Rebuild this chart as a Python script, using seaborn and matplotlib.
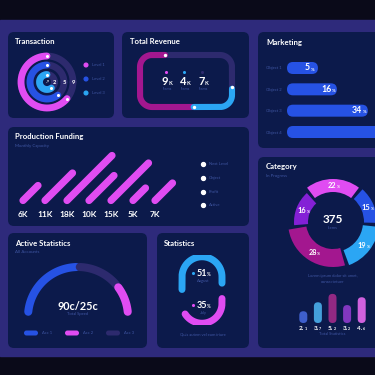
import numpy as np
import seaborn as sns
import matplotlib.pyplot as plt
from matplotlib.patches import FancyBboxPatch, Rectangle

sns.set_theme(style="white")
plt.rcParams["font.family"] = ["Lato", "DejaVu Sans"]

# colours
NIGHT = "#0a0a19"
PURPLE = "#2e2a7b"
PANEL = "#0c1a4b"
TRACK = "#2d2a6e"
DIM = "#3f55a2"
PINK = "#e04cf2"
MAGENTA = "#a3178f"
BLUE = "#2652e4"
SKY = "#2ba6f4"
VIOLET = "#8420d6"

# data
level_names = ["Level 1", "Level 2", "Level 3"]
level_pct = [64, 61, 60]
level_numbers = ["9", "5", "2"]

revenue_values = [9, 4, 7]
revenue_units = ["K", "K", "K"]

market_labels = ["Object 1", "Object 2", "Object 3", "Object 4"]
market_values = [5, 16, 34, 48]

funding_labels = ["6K", "11K", "18K", "10K", "15K", "5K", "7K"]
funding_values = [6, 11, 18, 10, 15, 5, 7]
funding_legend = ["Next Level", "Object", "Profit", "Active"]

category_pct = [22, 15, 19, 28, 16]
category_total = "375"
stat_labels = ["2.1", "3.7", "5.2", "3.2", "4.6"]
stat_values = [2.1, 3.7, 5.2, 3.2, 4.6]

acc_names = ["Acc 1", "Acc 2", "Acc 3"]
acc_values = [50, 20, 30]

month_names = ["August", "July"]
month_pct = [51, 35]

fig = plt.figure(figsize=(3.75, 3.75), dpi=100)
fig.patch.set_facecolor(NIGHT)
bg = fig.add_axes([0, 0, 1, 1])
bg.set_xlim(0, 375)
bg.set_ylim(375, 0)
bg.axis("off")


def px_axes(x0, y0, x1, y1):
    ax = fig.add_axes([x0 / 375, 1 - y1 / 375, (x1 - x0) / 375, (y1 - y0) / 375])
    ax.patch.set_alpha(0)
    for s in ax.spines.values():
        s.set_visible(False)
    return ax


def txt(x, y, s, size=3.2, color=DIM, bold=False, ha="left"):
    bg.text(x, y, s, fontsize=size, color=color, ha=ha, va="center",
            fontweight="bold" if bold else "normal")


def num_unit(ax, x, y, num, unit, size, color="white"):
    wn = 0.56 * size * len(num)
    wu = 0.3 * size * len(unit)
    sh = (wn - wu) / 2
    ax.annotate(num, (x, y), xytext=(sh, 0), textcoords="offset points", ha="right",
                va="center", fontsize=size, fontweight="bold", color=color)
    ax.annotate(unit, (x, y), xytext=(sh + 0.3, -size * 0.2), textcoords="offset points",
                ha="left", va="center", fontsize=size * 0.5, fontweight="bold", color=color)


def pill(x0, y0, x1, y1, color, z=2):
    w, h = x1 - x0, y1 - y0
    bg.add_patch(FancyBboxPatch((x0, y0), w, h, boxstyle=f"round,pad=0,rounding_size={min(w, h) / 2}",
                                fc=color, ec="none", zorder=z))


def patch_px(ax, p):
    pts = ax.transData.transform([(p.get_x(), p.get_y()),
                                  (p.get_x() + p.get_width(), p.get_y() + p.get_height())])
    (a, b), (c, d) = bg.transData.inverted().transform(pts)
    return min(a, c), min(b, d), max(a, c), max(b, d)


# background bands and panels
bg.add_patch(Rectangle((0, 20), 375, 336, color=PURPLE, zorder=0))
for x0, y0, x1, y1 in [(8, 32, 114, 118), (122, 32, 249, 118), (258, 32, 392, 148),
                       (8, 127, 249, 226), (258, 157, 392, 348), (8, 233, 147, 348),
                       (157, 233, 249, 348)]:
    bg.add_patch(FancyBboxPatch((x0, y0), x1 - x0, y1 - y0, boxstyle="round,pad=0,rounding_size=6",
                                fc=PANEL, ec="none", zorder=1))

title_kw = dict(size=5.6, color="white", bold=True)
txt(15, 41, "Transaction", **title_kw)
txt(130, 41, "Total Revenue", **title_kw)
txt(266, 42, "Marketing", **title_kw)
txt(15, 137, "Production Funding", **title_kw)
txt(15, 146, "Monthly Capacity", size=3.2)
txt(266, 167, "Category", **title_kw)
txt(266, 175.5, "In Progress", size=3.2)
txt(15, 243, "Active Statistics", **title_kw)
txt(15, 252, "All Accounts", size=3.2)
txt(164, 243, "Statistics", **title_kw)

# ---- Transaction rings
ax = px_axes(15, 50, 79, 114)
ax.set_xlim(-32, 32)
ax.set_ylim(-32, 32)
ax.set_xticks([])
ax.set_yticks([])
ring_colors = [PINK, BLUE, SKY]
for r, pct, col, num in zip([26, 17, 7.5], level_pct, ring_colors, level_numbers):
    t = np.linspace(0, 2 * np.pi, 200)
    ax.plot(r * np.cos(t), r * np.sin(t), color=TRACK, lw=4.9)
    a = np.radians(90 + np.linspace(0, pct * 3.6, 200))
    ax.plot(r * np.cos(a), r * np.sin(a), color=col, lw=4.9, solid_capstyle="round")
    ax.scatter(r * np.cos(a[[0, -1]]), r * np.sin(a[[0, -1]]), s=1.5, color="white", zorder=5)
    ax.text(r, 0, num, ha="center", va="center", fontsize=4.2, fontweight="bold", color="white")
ax.text(0, 0, "↗", ha="center", va="center", fontsize=3, color="white")
bg.scatter([86] * 3, [65, 79, 93], s=7, c=ring_colors, zorder=3)
for yy, name in zip([65, 79, 93], level_names):
    txt(92, yy, name, size=3)

# ---- Total Revenue track
def rrect(x0, y0, x1, y1, r):
    def arc(cx, cy, t0, t1):
        t = np.radians(np.linspace(t0, t1, 40))
        return np.c_[cx + r * np.cos(t), cy + r * np.sin(t)]
    pts = np.vstack([[[x1 - r, y0], [x0 + r, y0]], arc(x0 + r, y0 + r, -90, -180),
                     [[x0, y1 - r]], arc(x0 + r, y1 - r, 180, 90), [[x1 - r, y1]],
                     arc(x1 - r, y1 - r, 90, 0), [[x1, y0 + r]], arc(x1 - r, y0 + r, 0, -90)])
    d = np.r_[0, np.cumsum(np.hypot(*np.diff(pts, axis=0).T))]
    return pts, d


pts, d = rrect(140, 55, 232, 107, 12)
L = d[-1]
start = 54
frac = np.array(revenue_values) / sum(revenue_values)
bounds = start + np.r_[0, np.cumsum(frac)] * L
rev_colors = [MAGENTA, SKY, TRACK]
for i in [2, 0, 1]:
    s = np.linspace(bounds[i] + 1, bounds[i + 1] - 1, 300) % L
    bg.plot(np.interp(s, d, pts[:, 0]), np.interp(s, d, pts[:, 1]), color=rev_colors[i],
            lw=4.4, solid_capstyle="round", zorder=3)
for b in bounds[:3]:
    s = (b + 1) % L
    bg.scatter(np.interp(s, d, pts[:, 0]), np.interp(s, d, pts[:, 1]), s=2, c="white", zorder=4)
for xx, v, u, c in zip([167, 185, 203], revenue_values, revenue_units, [PINK, SKY, TRACK]):
    bg.scatter(xx - 1.5, 71.5, s=1.5, c=c, zorder=4)
    num_unit(bg, xx, 81.5, str(v), u, 8)
    txt(xx, 88.5, "Items", size=2.8, ha="center")

# ---- Marketing bars
ax = px_axes(287, 57.33, 400, 142.67)
sns.barplot(x=market_values, y=market_labels, ax=ax, color=BLUE, width=12 / 21.33, orient="h")
ax.set_xlim(-13, 52.7)
ax.set_ylim(3.5, -0.5)
ax.set_xticks([])
ax.set_xlabel("")
ax.tick_params(axis="y", length=0, labelsize=3, labelcolor=DIM, pad=4)
for p, v in zip(list(ax.patches), market_values):
    x0, y0, x1, y1 = patch_px(ax, p)
    p.remove()
    x0 = ax.transData.transform((-13, 0))[0] * 375 / fig.bbox.width
    pill(x0, y0, x1, y1, BLUE, z=3)
    num_unit(bg, x1 - 9, (y0 + y1) / 2, str(v), "%", 6.3)

# ---- Production Funding
ax = px_axes(12, 150, 188, 200.5)
ax.set_xlim(-0.5, 7.5)
ax.set_ylim(0, 50.5 / 2.5)
ax.set_xticks([])
ax.set_yticks([])
px_per_cat = 176 / 8
px_per_k = 50.5 / ax.get_ylim()[1]
for i, (v, lab) in enumerate(zip(funding_values, funding_labels)):
    ax.plot([i, i + v * px_per_k / px_per_cat], [0, v], color=PINK, lw=5.2,
            solid_capstyle="round", clip_on=False)
    ax.text(i, -14.5 / px_per_k, lab, ha="center", va="center", fontsize=6,
            fontweight="bold", color="white")
bg.scatter([203] * 4, [164, 178, 192, 205], s=8, c="white", zorder=3)
for yy, name in zip([164, 178, 192, 205], funding_legend):
    txt(209, yy, name, size=3)

# ---- Category donut
ax = px_axes(283, 172, 383, 272)
cat_colors = [PINK, BLUE, SKY, MAGENTA, VIOLET]
wedges, _ = ax.pie(category_pct, colors=cat_colors, startangle=129.6, counterclock=False,
                   radius=45, wedgeprops=dict(width=14, linewidth=0))
ax.set_xlim(-50, 50)
ax.set_ylim(-50, 50)
for w, (ro, wd) in zip(wedges, [(43, 13), (44, 13), (46, 16), (45, 18), (39, 14)]):
    w.set_radius(ro)
    w.set_width(wd)
    t1, t2 = w.theta1, w.theta2
    w.set_theta1(t1 + 2.5)
    w.set_theta2(t2 - 2.5)
    mid = np.radians((t1 + t2) / 2)
    rm = ro - wd / 2
    num_unit(ax, rm * np.cos(mid), rm * np.sin(mid), str(category_pct[wedges.index(w)]), "%", 5.3)
ax.text(0, 3, category_total, ha="center", va="center", fontsize=8.5, fontweight="bold", color="white")
ax.text(0, -6, "Items", ha="center", va="center", fontsize=3, color=DIM)
txt(333, 276, "Lorem ipsum dolor sit amet,", size=3, ha="center")
txt(333, 282, "consectetuer", size=3, ha="center")

ax = px_axes(296, 290, 369, 323)
stat_colors = [BLUE, SKY, MAGENTA, VIOLET, PINK]
sns.barplot(x=stat_labels, y=stat_values, hue=stat_labels, palette=stat_colors, legend=False,
            ax=ax, width=8 / 14.6)
ax.set_xlim(-0.5, 4.5)
ax.set_ylim(0, 33 / 5.6)
ax.set_xticks([])
ax.set_yticks([])
ax.set_xlabel("")
ax.set_ylabel("")
for p in list(ax.patches):
    if p.get_height() <= 0:
        continue
    x0, y0, x1, y1 = patch_px(ax, p)
    fc = p.get_facecolor()
    p.remove()
    pill(x0, y0, x1, y1, fc, z=3)
for i, lab in enumerate(stat_labels):
    a, b = lab.split(".")
    ax.annotate(a + ".", (i, 0), xytext=(0.6, -4), textcoords="offset points", ha="right", va="center",
                fontsize=4.6, fontweight="bold", color="white")
    ax.annotate(b, (i, 0), xytext=(0.8, -4.6), textcoords="offset points", ha="left", va="center",
                fontsize=2.6, fontweight="bold", color="white")
txt(332, 334, "Total Statistics", size=3, ha="center")

# ---- Active Statistics gauge
ax = px_axes(18, 257, 138, 377)
ax.set_xlim(-60, 60)
ax.set_ylim(-60, 60)
ax.set_xticks([])
ax.set_yticks([])
acc_colors = [BLUE, PINK, TRACK]
order = [0, 2, 1]
span = 172
theta = 176
for k in order:
    ext = acc_values[k] / sum(acc_values) * span
    a = np.radians(np.linspace(theta - 2, theta - ext + 2, 100))
    ax.plot(50 * np.cos(a), 50 * np.sin(a), color=acc_colors[k], lw=5.8, solid_capstyle="round")
    theta -= ext
ax.text(0, 11, "90c/25c", ha="center", va="center", fontsize=7.8, fontweight="bold", color="white")
ax.text(0, 2.5, "Total Speed", ha="center", va="center", fontsize=3, color=DIM)
for x0, name, c in zip([24, 65, 106], acc_names, acc_colors):
    pill(x0, 330.5, x0 + 14, 335.5, c, z=3)
    txt(x0 + 18, 333, name, size=3)

# ---- Statistics stadium
ax = px_axes(167, 255, 237, 325)
ax.set_xlim(-35, 35)
ax.set_ylim(-35, 35)
ax.set_xticks([])
ax.set_yticks([])
R, H = 20, 26.5


def stadium(s):
    s = np.asarray(s)
    x = np.empty_like(s)
    y = np.empty_like(s)
    for j, v in enumerate(s):
        if v < H:
            x[j], y[j] = -R, -H / 2 + v
        elif v < H + np.pi * R:
            t = np.pi - (v - H) / R
            x[j], y[j] = R * np.cos(t), H / 2 + R * np.sin(t)
        elif v < 2 * H + np.pi * R:
            x[j], y[j] = R, H / 2 - (v - H - np.pi * R)
        else:
            t = -(v - 2 * H - np.pi * R) / R
            x[j], y[j] = R * np.cos(t), -H / 2 + R * np.sin(t)
    return x, y


P = 2 * H + 2 * np.pi * R
scale = 0.9 * P / 100
s_blue = np.linspace(13.75, 13.75 + month_pct[0] * scale, 300)
s_pink = np.linspace(111.1, 111.1 + month_pct[1] * scale, 300)
for s, c in [(s_blue, SKY), (s_pink, PINK)]:
    x, y = stadium(s)
    ax.plot(x, y, color=c, lw=5, solid_capstyle="round")
for yy, v, name, c in [(273, month_pct[0], month_names[0], SKY), (305, month_pct[1], month_names[1], PINK)]:
    bg.scatter(193, yy, s=1.5, c=c, zorder=4)
    num_unit(bg, 203, yy, str(v), "%", 6.5)
    txt(203, yy + 8, name, size=3, ha="center")
txt(203, 334, "Quis autem vel eum iriure", size=3, ha="center")

fig.savefig("out.png", dpi=100, facecolor=NIGHT)
